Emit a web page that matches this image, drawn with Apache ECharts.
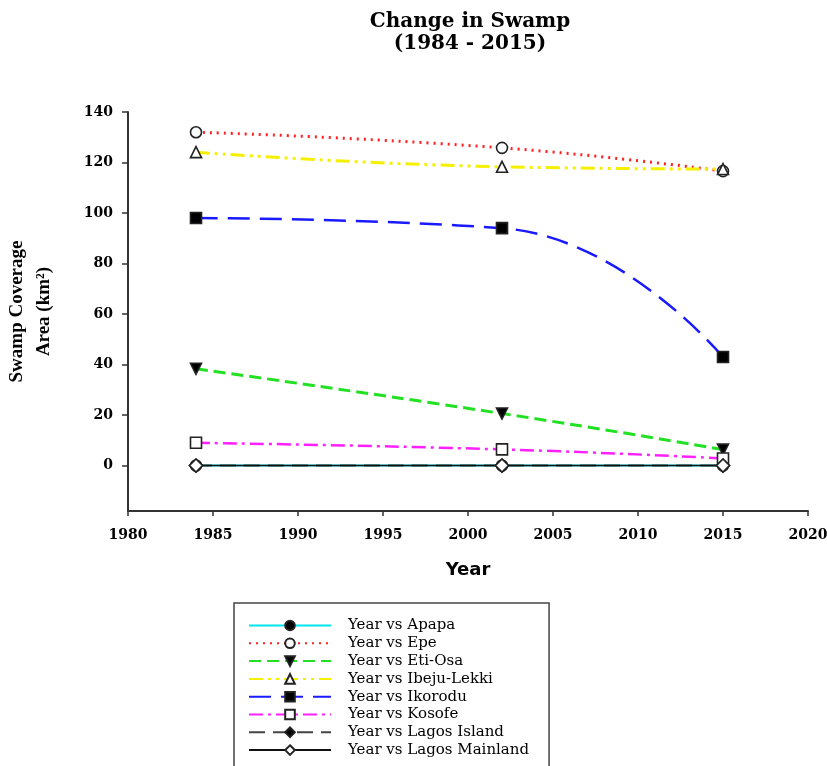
<!DOCTYPE html>
<html><head><meta charset="utf-8">
<script src="https://cdn.jsdelivr.net/npm/echarts@6/dist/echarts.min.js"></script>
<style>html,body{margin:0;padding:0;background:#fff}#c{width:827px;height:766px}</style>
</head><body><div id="c"></div>
<script>
const years = [1984, 2002, 2015];
const yTicks = [0, 20, 40, 60, 80, 100, 120, 140];
const apapa = [0, 0, 0];
const epe = [132, 125.8, 116.6];
const etiOsa = [38.3, 20.6, 6.3];
const ibejuLekki = [124.1, 118.3, 117.4];
const ikorodu = [98, 94, 43];
const kosofe = [9, 6.4, 2.8];
const lagosIsland = [0, 0, 0];
const lagosMainland = [0, 0, 0];

const serif = '"Liberation Serif","DejaVu Serif",serif';
const wideSerif = '"DejaVu Serif","Liberation Serif",serif';
function pts(v){ return years.map((y,i)=>[y, v[i]]); }
function mk(name, data, color, dash, symbol, filled, width, rotate){
  return {
    name: name, type: 'line', data: pts(data), smooth: 0.5,
    symbol: symbol, symbolSize: symbol==='diamond'?13:11, symbolRotate: rotate||0,
    lineStyle: {color: color, width: width||2.5, type: dash},
    itemStyle: {color: filled ? '#000' : '#fff', borderColor: '#222', borderWidth: 1.6},
    z: 2
  };
}
const chart = echarts.init(document.getElementById('c'));
chart.setOption({
  animation: false,
  title: {
    text: 'Change in Swamp\n(1984 - 2015)', left: 465, top: 6, textAlign: 'center',
    textStyle: {fontFamily: wideSerif, fontWeight: 'bold', fontSize: 20, lineHeight: 22, color: '#000'}
  },
  grid: {left: 128, right: 19, top: 112, bottom: 255, outerBoundsMode: 'none', containLabel: false},
  xAxis: {
    type: 'value', min: 1980, max: 2020, interval: 5,
    name: 'Year', nameLocation: 'middle', nameGap: 50,
    nameTextStyle: {fontFamily: '"DejaVu Sans",sans-serif', fontWeight: 'bold', fontSize: 18, color: '#000'},
    axisLine: {onZero: false, lineStyle: {color: '#333', width: 2}},
    axisTick: {lineStyle: {color: '#333', width: 1.5}, length: 5},
    axisLabel: {fontFamily: wideSerif, fontWeight: 'bold', fontSize: 14, color: '#000', margin: 17,
      formatter: function(v){ return String(v); }},
    splitLine: {show: false}
  },
  yAxis: {
    type: 'value', min: -18, max: 140,
    name: 'Swamp Coverage\nArea (km²)', nameLocation: 'middle', nameGap: 70, nameRotate: 90,
    nameTextStyle: {fontFamily: serif, fontWeight: 'bold', fontSize: 19, lineHeight: 27, color: '#000'},
    axisLine: {show: true, onZero: false, lineStyle: {color: '#333', width: 2}},
    axisTick: {show: true, customValues: yTicks, lineStyle: {color: '#333', width: 1.5}, length: 6},
    axisLabel: {customValues: yTicks, fontFamily: wideSerif, fontWeight: 'bold', fontSize: 14, color: '#000', margin: 15,
      formatter: function(v){ return String(v); }},
    splitLine: {show: false}
  },
  legend: {
    orient: 'vertical', left: 234, top: 603, height: 200, itemWidth: 82, itemHeight: 12, itemGap: 2.8,
    padding: [15, 20, 14, 14], borderColor: '#444', borderWidth: 1.5,
    textStyle: {fontFamily: wideSerif, fontSize: 15, color: '#000', padding: [0,0,0,12]},
    data: ['Year vs Apapa','Year vs Epe','Year vs Eti-Osa','Year vs Ibeju-Lekki','Year vs Ikorodu','Year vs Kosofe','Year vs Lagos Island','Year vs Lagos Mainland']
  },
  series: [
    mk('Year vs Apapa', apapa, '#00e5ee', 'solid', 'circle', true, 2),
    mk('Year vs Epe', epe, '#ff2020', [2,5], 'circle', false, 3),
    mk('Year vs Eti-Osa', etiOsa, '#22e022', [12,6], 'triangle', true, 3, 180),
    mk('Year vs Ibeju-Lekki', ibejuLekki, '#f5f000', [14,5,3,5,3,5], 'triangle', false, 3),
    mk('Year vs Ikorodu', ikorodu, '#1a1aff', [22,10], 'rect', true, 2.5),
    mk('Year vs Kosofe', kosofe, '#ff20ff', [14,5,3,5], 'rect', false, 2.5),
    mk('Year vs Lagos Island', lagosIsland, '#444', [16,8], 'diamond', true, 2),
    mk('Year vs Lagos Mainland', lagosMainland, '#111', 'solid', 'diamond', false, 1.5)
  ]
});
</script></body></html>
